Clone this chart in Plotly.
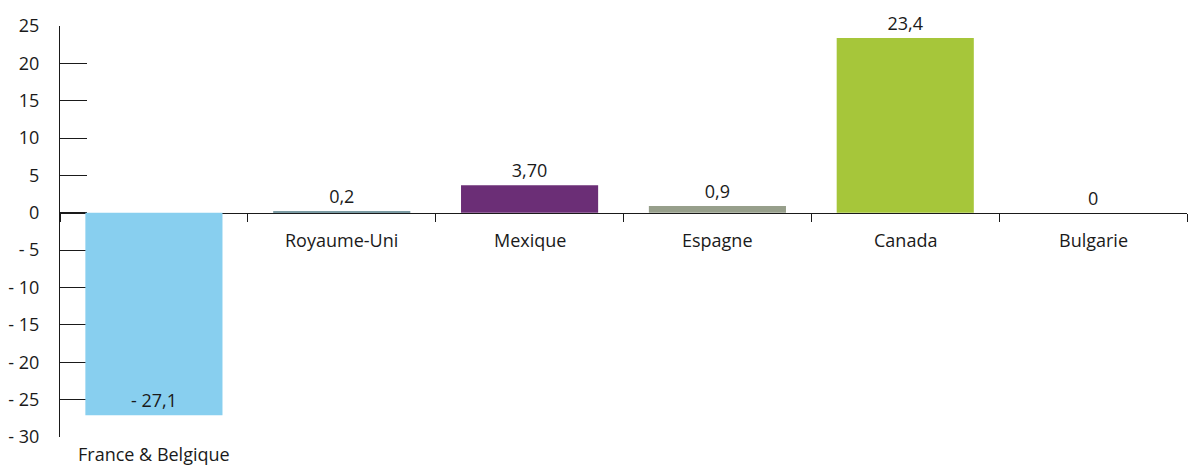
import plotly.graph_objects as go

# Variation par pays
categories = ["France & Belgique", "Royaume-Uni", "Mexique", "Espagne", "Canada", "Bulgarie"]
values = [-27.1, 0.2, 3.70, 0.9, 23.4, 0]
value_labels = ["- 27,1", "0,2", "3,70", "0,9", "23,4", "0"]
bar_colors = ["#88cfef", "#7b9ba3", "#6b2e76", "#979f8b", "#a6c63a", "#000000"]

y_tickvals = [25, 20, 15, 10, 5, 0, -5, -10, -15, -20, -25, -30]
y_ticktext = ["25", "20", "15", "10", "5", "0", "- 5", "- 10", "- 15", "- 20", "- 25", "- 30"]

FONT = "Open Sans"
FSIZE = 18
TXT = "#1a1a1a"
y_min, y_max = -30, 25

text_positions = ["inside" if v < 0 else "outside" for v in values]

fig = go.Figure()
fig.add_trace(go.Bar(
    x=categories,
    y=values,
    width=0.73,
    marker=dict(color=bar_colors, line=dict(width=0)),
    text=value_labels,
    textposition=text_positions,
    insidetextanchor="end",
    textangle=0,
    textfont=dict(family=FONT, size=FSIZE, color=TXT),
    outsidetextfont=dict(family=FONT, size=FSIZE, color=TXT),
    insidetextfont=dict(family=FONT, size=FSIZE, color=TXT),
    cliponaxis=False,
    hoverinfo="skip",
))

# Category names: under the zero line, or under the plot for negative bars
for cat, v in zip(categories, values):
    if v < 0:
        fig.add_annotation(x=cat, y=0, xref="x", yref="paper", text=cat,
                           showarrow=False, yanchor="top", yshift=-3,
                           font=dict(family=FONT, size=FSIZE, color=TXT))
    else:
        fig.add_annotation(x=cat, y=0, xref="x", yref="y", text=cat,
                           showarrow=False, yanchor="top", yshift=-13,
                           font=dict(family=FONT, size=FSIZE, color=TXT))

fig.update_layout(
    width=1192,
    height=468,
    margin=dict(l=60, r=5, t=26, b=31),
    paper_bgcolor="white",
    plot_bgcolor="white",
    showlegend=False,
    bargap=0.27,
    uniformtext=dict(mode=False),
)

fig.update_xaxes(
    type="category",
    range=[-0.5, len(categories) - 0.5],
    anchor="free",
    position=(0 - y_min) / (y_max - y_min),
    showline=True,
    linecolor=TXT,
    linewidth=1,
    ticks="outside",
    tickson="boundaries",
    ticklen=8,
    tickcolor=TXT,
    tickwidth=1,
    showticklabels=False,
    showgrid=False,
    zeroline=False,
    layer="below traces",
)

fig.update_yaxes(
    range=[y_min, y_max],
    tickvals=y_tickvals,
    ticktext=y_ticktext,
    ticks="inside",
    ticklen=27,
    tickcolor=TXT,
    tickwidth=1,
    showline=True,
    linecolor=TXT,
    linewidth=1,
    showgrid=False,
    zeroline=False,
    ticklabelstandoff=16,
    tickfont=dict(family=FONT, size=FSIZE, color=TXT),
    layer="below traces",
)

fig.write_html("out.html")
